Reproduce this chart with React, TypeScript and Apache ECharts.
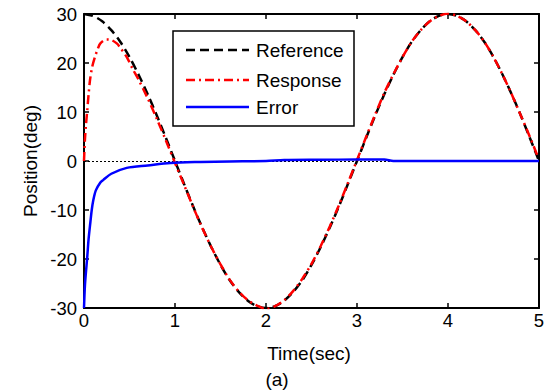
import React, { useEffect, useRef } from "react";
import * as echarts from "echarts";

const xTicks = [0, 1, 2, 3, 4, 5];
const yTicks = [-30, -20, -10, 0, 10, 20, 30];
const seriesNames = ["Reference", "Response", "Error"];

const refTime = [0, 0.1, 0.2, 0.3, 0.4, 0.5, 0.6, 0.7, 0.8, 0.9, 1.0, 1.1, 1.2, 1.3, 1.4, 1.5, 1.6, 1.7, 1.8, 1.9, 2.0, 2.1, 2.2, 2.3, 2.4, 2.5, 2.6, 2.7, 2.8, 2.9, 3.0, 3.1, 3.2, 3.3, 3.4, 3.5, 3.6, 3.7, 3.8, 3.9, 4.0, 4.1, 4.2, 4.3, 4.4, 4.5, 4.6, 4.7, 4.8, 4.9, 5.0];
const refValues = [30, 29.6, 28.5, 26.7, 24.3, 21.2, 17.6, 13.6, 9.3, 4.7, 0, -4.7, -9.3, -13.6, -17.6, -21.2, -24.3, -26.7, -28.5, -29.6, -30, -29.6, -28.5, -26.7, -24.3, -21.2, -17.6, -13.6, -9.3, -4.7, 0, 4.7, 9.3, 13.6, 17.6, 21.2, 24.3, 26.7, 28.5, 29.6, 30, 29.6, 28.5, 26.7, 24.3, 21.2, 17.6, 13.6, 9.3, 4.7, 0];

const respTime = [0, 0.01, 0.02, 0.036, 0.05, 0.066, 0.09, 0.12, 0.15, 0.18, 0.25, 0.3, 0.36, 0.4, 0.47, 0.54, 0.6, 0.7, 0.8, 0.9, 1.0, 1.1, 1.2, 1.3, 1.4, 1.5, 1.6, 1.7, 1.8, 1.9, 2.0, 2.1, 2.2, 2.3, 2.4, 2.5, 2.6, 2.7, 2.8, 2.9, 3.0, 3.1, 3.2, 3.3, 3.4, 3.5, 3.6, 3.7, 3.8, 3.9, 4.0, 4.1, 4.2, 4.3, 4.4, 4.5, 4.6, 4.7, 4.8, 4.9, 4.98];
const respValues = [0, 4.3, 7, 10.4, 13.5, 16.5, 19.2, 21.2, 22.8, 24, 24.8, 24.7, 24, 23.1, 21.2, 18.6, 16.6, 12.8, 8.6, 4.2, -0.4, -4.9, -9.4, -13.7, -17.6, -21.1, -24.2, -26.6, -28.4, -29.5, -30.2, -29.6, -28.4, -26.5, -24.0, -21.0, -17.4, -13.4, -9.1, -4.5, 0.2, 4.9, 9.5, 13.9, 17.7, 21.2, 24.3, 26.7, 28.5, 29.6, 30.1, 29.6, 28.5, 26.7, 24.3, 21.2, 17.6, 13.6, 9.3, 4.9, 1.2];

const errTime = [0, 0.005, 0.01, 0.02, 0.036, 0.05, 0.07, 0.085, 0.1, 0.13, 0.18, 0.21, 0.3, 0.47, 0.7, 0.95, 1.28, 1.6, 2.0, 2.2, 2.6, 3.0, 3.3, 3.4, 4.0, 5.0];
const errValues = [-30, -27.5, -25.5, -23, -19.5, -16, -12.5, -10, -8.2, -6, -4.4, -3.9, -2.6, -1.4, -0.9, -0.4, -0.2, -0.1, 0, 0.2, 0.25, 0.3, 0.3, 0, 0, 0];

const zip = (xs: number[], ys: number[]) => xs.map((x, i) => [x, ys[i]]);

const FONT = "Liberation Sans, Arial, sans-serif";
const COLORS = ["#000000", "#ff0000", "#0000ff"];
const DASHES: (number[] | null)[] = [[9, 5], [9, 4, 2, 4], null];

export default function App() {
  const ref = useRef<HTMLDivElement>(null);
  useEffect(() => {
    if (!ref.current) return;
    const chart = echarts.init(ref.current, null, { renderer: "svg" });
    const axisLine = { show: true, onZero: false, lineStyle: { color: "#000", width: 2 } };
    const tick = { show: true, inside: true, length: 5, lineStyle: { color: "#000", width: 1.5 } };

    const legendRows = [50, 80, 107];
    const legendGraphics: any[] = [
      { type: "rect", shape: { x: 173, y: 31, width: 181, height: 95 }, style: { fill: "#fff", stroke: "#000", lineWidth: 1.5 }, z: 100 },
    ];
    seriesNames.forEach((name, i) => {
      legendGraphics.push({
        type: "line",
        shape: { x1: 186, y1: legendRows[i], x2: 249, y2: legendRows[i] },
        style: { stroke: COLORS[i], lineWidth: 2.5, lineDash: DASHES[i] || undefined },
        z: 101,
      });
      legendGraphics.push({
        type: "text", x: 256, y: legendRows[i],
        style: { text: name, fontSize: 19, fontFamily: FONT, fill: "#000", align: "left", verticalAlign: "middle" },
        z: 101,
      });
    });

    chart.setOption({
      animation: false,
      backgroundColor: "#fff",
      grid: { left: 84, right: 11, top: 14, bottom: 83, containLabel: false },
      xAxis: [
        {
          type: "value", min: 0, max: 5, interval: 1,
          axisLine, axisTick: tick, splitLine: { show: false },
          axisLabel: { color: "#000", fontSize: 18.5, fontFamily: FONT, margin: 3, formatter: (v: number) => (xTicks.includes(v) ? String(v) : "") },
        },
        {
          type: "value", position: "top", min: 0, max: 5, interval: 1,
          axisLine, axisTick: tick, splitLine: { show: false }, axisLabel: { show: false },
        },
      ],
      yAxis: [
        {
          type: "value", min: -30, max: 30, interval: 10,
          axisLine, axisTick: tick, splitLine: { show: false },
          axisLabel: { color: "#000", fontSize: 18.5, fontFamily: FONT, margin: 7, formatter: (v: number) => (yTicks.includes(v) ? String(v) : "") },
        },
        {
          type: "value", position: "right", min: -30, max: 30, interval: 10,
          axisLine, axisTick: tick, splitLine: { show: false }, axisLabel: { show: false },
        },
      ],
      series: [
        {
          name: seriesNames[0], type: "line", showSymbol: false, symbol: "none",
          data: zip(refTime, refValues), smooth: 0.3,
          lineStyle: { color: COLORS[0], width: 2.5, type: DASHES[0] },
          z: 2,
        },
        {
          name: seriesNames[1], type: "line", showSymbol: false, symbol: "none",
          data: zip(respTime, respValues), smooth: 0.3,
          lineStyle: { color: COLORS[1], width: 2.5, type: DASHES[1] },
          z: 3,
        },
        {
          name: seriesNames[2], type: "line", showSymbol: false, symbol: "none",
          data: zip(errTime, errValues), smooth: 0.3,
          lineStyle: { color: COLORS[2], width: 2.5 },
          z: 4,
          markLine: {
            silent: true, symbol: "none", label: { show: false },
            lineStyle: { color: "#000", width: 1, type: [2, 2] },
            data: [{ yAxis: 0 }],
            z: 1,
          },
        },
      ],
      graphic: [
        ...legendGraphics,
        { type: "text", x: 30, y: 161, rotation: Math.PI / 2, style: { text: "Position(deg)", fontSize: 19, fontFamily: FONT, fill: "#000", align: "center", verticalAlign: "middle" } },
        { type: "text", x: 309, y: 353, style: { text: "Time(sec)", fontSize: 19, fontFamily: FONT, fill: "#000", align: "center", verticalAlign: "middle" } },
        { type: "text", x: 277, y: 379, style: { text: "(a)", fontSize: 19, fontFamily: FONT, fill: "#000", align: "center", verticalAlign: "middle" } },
      ],
    });
    return () => chart.dispose();
  }, []);
  return <div ref={ref} style={{ width: 550, height: 391, position: "absolute", left: 0, top: 0 }} />;
}
